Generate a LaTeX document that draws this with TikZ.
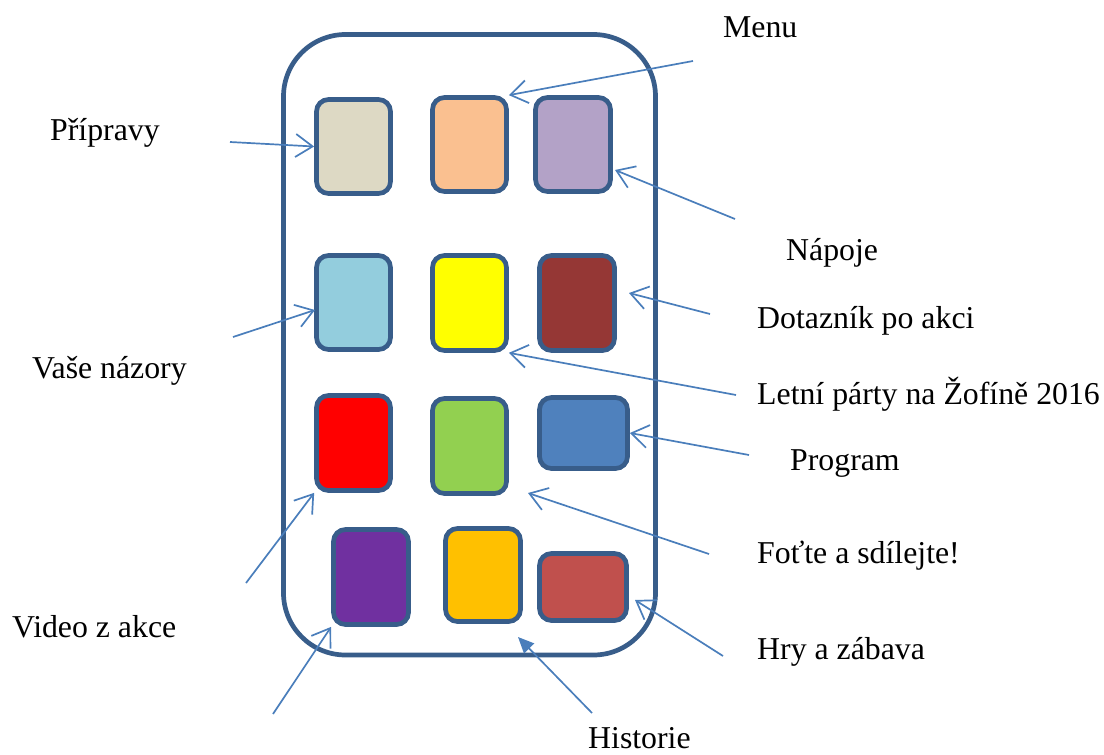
\documentclass[tikz,border=0pt]{standalone}
\usepackage{fontspec}
\setmainfont{Liberation Serif}
\usetikzlibrary{arrows.meta}
\definecolor{frameblue}{HTML}{385D8A}
\definecolor{arrowblue}{HTML}{4A7EBB}
\definecolor{cbeige}{HTML}{DDD9C4}
\definecolor{corange}{HTML}{FAC090}
\definecolor{clilac}{HTML}{B3A2C7}
\definecolor{caqua}{HTML}{93CDDD}
\definecolor{cyellow}{HTML}{FFFF00}
\definecolor{cmaroon}{HTML}{953735}
\definecolor{cred}{HTML}{FF0000}
\definecolor{cgreen}{HTML}{92D050}
\definecolor{cblue}{HTML}{4F81BD}
\definecolor{cpurple}{HTML}{7030A0}
\definecolor{camber}{HTML}{FFC000}
\definecolor{cbrick}{HTML}{C0504D}
\tikzset{
  tile/.style={draw=frameblue, line width=4.7pt, rounded corners=12pt, rectangle, inner sep=0pt},
  phone/.style={draw=frameblue, line width=4.7pt, rounded corners=62pt},
  label/.style={anchor=base west, inner sep=0pt, font=\fontsize{31.8pt}{38pt}\selectfont},
  pointer/.style={draw=arrowblue, line width=1.7pt, -{Straight Barb[length=17pt,width=23pt,line width=1.7pt]}},
  solidpointer/.style={draw=arrowblue, line width=1.7pt, -{Triangle[length=16pt,width=14pt]}}
}
\begin{document}
\begin{tikzpicture}[x=1pt, y=-1pt]
\useasboundingbox (0,0) rectangle (1104,755);

% phone outline
\draw[phone] (283.5,34.5) rectangle (655.5,655);

% app tiles
\node[tile, fill=cbeige,  minimum width=74pt, minimum height=94pt] (b1)  at (353.5,146.5) {};
\node[tile, fill=corange, minimum width=74pt, minimum height=94pt] (b2)  at (469.5,144.5) {};
\node[tile, fill=clilac,  minimum width=75pt, minimum height=94pt] (b3)  at (573,144.5) {};
\node[tile, fill=caqua,   minimum width=74pt, minimum height=94pt] (b4)  at (353.5,302.5) {};
\node[tile, fill=cyellow, minimum width=74pt, minimum height=95pt] (b5)  at (469.5,303) {};
\node[tile, fill=cmaroon, minimum width=75pt, minimum height=95pt] (b6)  at (577,303) {};
\node[tile, fill=cred,    minimum width=74pt, minimum height=95pt] (b7)  at (353.5,443) {};
\node[tile, fill=cgreen,  minimum width=74pt, minimum height=95pt] (b8)  at (469.5,446) {};
\node[tile, fill=cblue,   minimum width=88pt, minimum height=71pt] (b9)  at (583.5,433) {};
\node[tile, fill=cpurple, minimum width=75pt, minimum height=95pt] (b10) at (371,577) {};
\node[tile, fill=camber,  minimum width=75pt, minimum height=93pt] (b11) at (483,575) {};
\node[tile, fill=cbrick,  minimum width=87pt, minimum height=67pt] (b12) at (583,587) {};

% labels
\node[label] (tMenu)    at (723,37)  {Menu};
\node[label] (tPrip)    at (50,140)  {Přípravy};
\node[label] (tNapoje)  at (786,260) {Nápoje};
\node[label] (tDotaz)   at (757,328) {Dotazník po akci};
\node[label] (tNazory)  at (32,378)  {Vaše názory};
\node[label] (tLetni)   at (757,404) {Letní párty na Žofíně 2016};
\node[label] (tProg)    at (790,470) {Program};
\node[label] (tFotte)   at (757,563) {Foťte a sdílejte!};
\node[label] (tVideo)   at (12,637)  {Video z akce};
\node[label] (tHry)     at (757,659) {Hry a zábava};
\node[label] (tHist)    at (588,748) {Historie};

% arrow tails
\coordinate (sPrip)   at (230,142);
\coordinate (sMenu)   at (693,61);
\coordinate (sNapoje) at (735,219);
\coordinate (sNazory) at (233,337);
\coordinate (sDotaz)  at (710,314);
\coordinate (sLetni)  at (736,395);
\coordinate (sProg)   at (749,455);
\coordinate (sFotte)  at (709,554);
\coordinate (sHry)    at (723,656);
\coordinate (sVideoA) at (246,583);
\coordinate (sVideoB) at (273,714);
\coordinate (sHist)   at (592,713);

% arrow tips that do not sit on a tile anchor
\coordinate (pNapoje) at (615,170);
\coordinate (pDotaz)  at (629,293);
\coordinate (pNazory) at (315,310);
\coordinate (pFotte)  at (528,493);
\coordinate (pHry)    at (635,600);
\coordinate (pHist)   at (518,637);

% pointers
\draw[pointer] (sPrip)   -- (b1.west);
\draw[pointer] (sMenu)   -- (b2.north east);
\draw[pointer] (sNapoje) -- (pNapoje);
\draw[pointer] (sNazory) -- (pNazory);
\draw[pointer] (sDotaz)  -- (pDotaz);
\draw[pointer] (sLetni)  -- (b5.south east);
\draw[pointer] (sProg)   -- (b9.east);
\draw[pointer] (sFotte)  -- (pFotte);
\draw[pointer] (sHry)    -- (pHry);
\draw[pointer] (sVideoA) -- (b7.south west);
\draw[pointer] (sVideoB) -- (b10.south west);
\draw[solidpointer] (sHist) -- (pHist);
\end{tikzpicture}
\end{document}
